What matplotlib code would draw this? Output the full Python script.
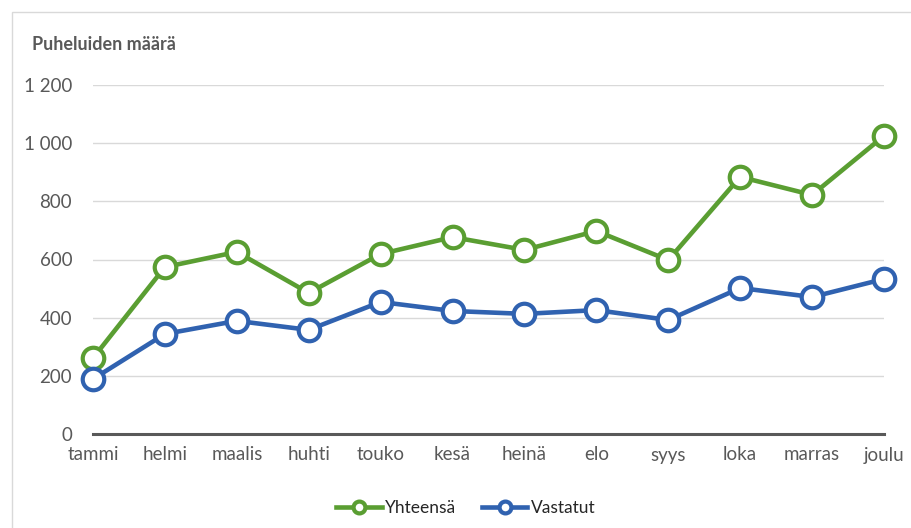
import matplotlib.pyplot as plt
from matplotlib.patches import Rectangle

months = ['tammi', 'helmi', 'maalis', 'huhti', 'touko', 'kesä',
          'heinä', 'elo', 'syys', 'loka', 'marras', 'joulu']
total = [261, 574, 626, 485, 619, 677, 633, 698, 598, 884, 822, 1025]
answered = [189, 344, 389, 358, 454, 423, 413, 426, 392, 502, 471, 533]
yticks = [0, 200, 400, 600, 800, 1000, 1200]
ytick_labels = ['0', '200', '400', '600', '800', '1 000', '1 200']

plt.rcParams['font.family'] = ['Lato', 'DejaVu Sans']

W, H = 911, 528
fig = plt.figure(figsize=(W / 100, H / 100), dpi=100)
fig.patches.append(Rectangle((12 / W, -0.1), 1.2, (H - 12) / H + 0.1,
                             transform=fig.transFigure, fill=False,
                             edgecolor='#D9D9D9', linewidth=1))

ax = fig.add_axes([93 / W, 94 / H, (884 - 93) / W, (434 - 85) / H])
x = list(range(len(months)))

green = '#5A9E32'
blue = '#3062B0'
for vals, col, lab in [(total, green, 'Yhteensä'), (answered, blue, 'Vastatut')]:
    ax.plot(x, vals, color=col, linewidth=3.3, marker='o', markersize=15.5,
            markerfacecolor='white', markeredgecolor=col, markeredgewidth=3,
            label=lab, zorder=3, clip_on=False)

ax.set_xlim(0, len(months) - 1)
ax.set_ylim(0, 1200)
ax.set_yticks(yticks)
ax.set_yticklabels(ytick_labels)
ax.set_xticks(x)
ax.set_xticklabels(months)
ax.grid(axis='y', color='#D9D9D9', linewidth=1)
ax.set_axisbelow(True)
for s in ['top', 'right', 'left']:
    ax.spines[s].set_visible(False)
ax.spines['bottom'].set_color('#595959')
ax.spines['bottom'].set_linewidth(2.2)
ax.spines['bottom'].set_zorder(2)
ax.tick_params(axis='both', length=0, labelsize=13.5, labelcolor='#595959')
ax.tick_params(axis='y', pad=15)
ax.tick_params(axis='x', pad=9)

fig.text(32 / W, 1 - 45 / H, 'Puheluiden määrä', fontsize=13, fontweight='bold',
         color='#595959', va='center', ha='left')

leg = fig.legend(loc='center', bbox_to_anchor=(466 / W, 1 - 508 / H), ncol=2,
                 frameon=False, fontsize=12.5, handlelength=2.6, columnspacing=1.5,
                 handletextpad=0.2, markerscale=0.55)
for t in leg.get_texts():
    t.set_color('#262626')

fig.savefig('out.png', dpi=100)
